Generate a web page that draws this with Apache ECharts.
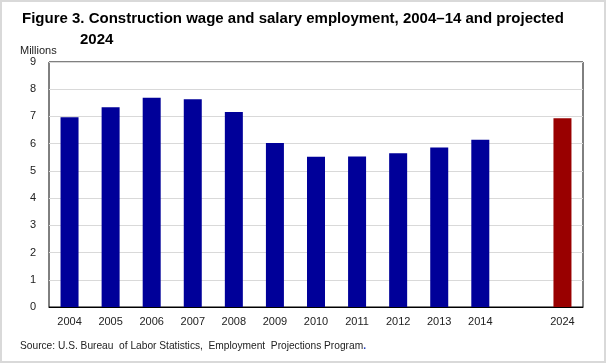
<!DOCTYPE html>
<html><head><meta charset="utf-8">
<script src="https://cdn.jsdelivr.net/npm/echarts@6/dist/echarts.min.js"></script>
<style>html,body{margin:0;padding:0;background:#fff}#c{width:606px;height:363px}</style>
</head><body><div id="c"></div>
<script>
var categories = ['2004','2005','2006','2007','2008','2009','2010','2011','2012','2013','2014','','2024'];
var employment = [6.97, 7.34, 7.69, 7.63, 7.16, 6.02, 5.52, 5.53, 5.65, 5.86, 6.14, null, 6.93];
var projectedFlags = [0,0,0,0,0,0,0,0,0,0,0,0,1];
var yTicks = [0,1,2,3,4,5,6,7,8,9];

var FONT = '"Liberation Sans",sans-serif';
var chart = echarts.init(document.getElementById('c'));
var data = employment.map(function(v,i){
  return {value: v, itemStyle: {color: projectedFlags[i] ? '#990000' : '#000099'}};
});
chart.setOption({
  animation: false,
  grid: {left: 49, right: 23, top: 62, bottom: 56, show: true, borderColor: '#000', borderWidth: 1, backgroundColor: 'transparent'},
  xAxis: {
    type: 'category', data: categories,
    axisLine: {show: true, lineStyle: {color: '#000', width: 1}},
    axisTick: {show: false},
    axisLabel: {color: '#222', fontFamily: FONT, fontSize: 11, margin: 9, interval: 0}
  },
  yAxis: {
    type: 'value', min: yTicks[0], max: yTicks[yTicks.length-1], interval: 1,
    axisLine: {show: false}, axisTick: {show: false},
    splitLine: {show: true, lineStyle: {color: '#d9d9d9', width: 1}},
    axisLabel: {color: '#222', fontFamily: FONT, fontSize: 11, margin: 13}
  },
  series: [{type: 'bar', data: data, barWidth: 18}],
  graphic: [
    {type: 'rect', shape: {x: 1, y: 1, width: 604, height: 361}, style: {fill: 'none', stroke: '#d9d9d9', lineWidth: 2}, silent: true},
    {type: 'text', left: 22, top: 11, style: {text: 'Figure 3. Construction wage and salary employment, 2004\u201314 and projected', fontFamily: FONT, fontSize: 15, fontWeight: 'bold', fill: '#000'}},
    {type: 'text', left: 80, top: 32, style: {text: '2024', fontFamily: FONT, fontSize: 15, fontWeight: 'bold', fill: '#000'}},
    {type: 'text', left: 20, top: 45, style: {text: 'Millions', fontFamily: FONT, fontSize: 11, fill: '#222'}},
    {type: 'text', left: 20, top: 341, style: {text: '{a|Source: U.S. Bureau  of Labor Statistics,  Employment  Projections Program}{b|.}', rich: {a: {fontFamily: FONT, fontSize: 10.2, fill: '#222'}, b: {fontFamily: FONT, fontSize: 10.2, fill: '#1f3fbf', fontWeight: 'bold'}}}}
  ]
});
</script></body></html>
